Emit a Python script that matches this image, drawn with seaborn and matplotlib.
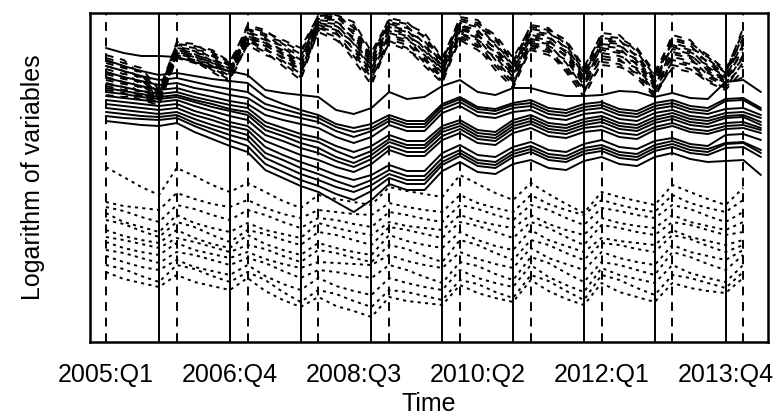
import pandas as pd
import seaborn as sns
import matplotlib
matplotlib.use('Agg')
import matplotlib.pyplot as plt

# quarters 2005:Q1 .. 2014:Q2, solid series run one quarter longer than the others
quarters = [f'{y}:Q{q}' for y in range(2005, 2015) for q in range(1, 5)][:38]
label_quarters = ['2005:Q1', '2006:Q4', '2008:Q3', '2010:Q2', '2012:Q1', '2013:Q4']

# log levels (arbitrary units)
solid_series = [
    [302,297,294,294,293,288,283,279,275,260,257,255,253,240,236,242,258,251,253,264,270,258,255,262,262,257,254,254,255,259,258,253,257,252,251,268,270,258],
    [290,284,279,275,277,274,271,269,267,253,246,240,235,226,222,226,235,229,229,246,253,243,241,247,250,242,240,246,248,241,239,247,250,244,242,251,252,242],
    [284,279,274,270,272,268,264,261,258,246,241,236,232,223,218,222,232,226,226,244,251,241,239,245,247,239,237,243,245,238,236,244,247,241,239,249,250,240],
    [278,273,269,265,267,262,259,255,252,241,236,232,228,219,213,219,229,223,223,241,248,238,236,242,244,236,234,240,242,235,233,241,244,238,236,241,242,235],
    [272,268,264,260,262,257,253,249,246,235,230,226,222,213,207,213,225,219,219,237,244,234,232,238,240,232,230,236,238,231,229,237,240,234,232,237,238,232],
    [266,263,259,256,258,253,249,245,242,228,222,216,212,204,198,204,215,209,209,224,230,220,218,230,235,227,225,231,234,227,225,233,237,231,229,234,235,228],
    [262,259,256,253,255,250,246,241,238,224,218,212,208,199,192,199,211,205,205,221,227,217,215,227,232,224,222,228,231,224,222,230,234,228,226,232,233,225],
    [258,256,253,251,253,248,243,239,235,220,214,207,202,193,187,195,208,202,202,218,224,214,212,224,229,221,219,225,228,221,219,227,231,225,223,227,228,222],
    [254,252,250,248,250,244,239,234,230,215,209,202,197,189,183,191,204,198,198,214,221,211,209,221,226,218,216,222,224,217,215,223,227,221,219,224,225,220],
    [250,248,246,244,246,239,234,228,224,209,202,195,190,183,178,186,200,194,194,210,217,207,205,217,222,214,212,218,220,213,211,220,224,218,216,221,222,217],
    [246,244,242,240,242,235,230,224,220,203,195,188,182,175,170,175,185,179,179,197,205,195,193,203,208,200,198,206,210,203,201,209,212,206,204,215,216,210],
    [242,240,238,236,238,231,225,220,215,197,190,182,176,169,163,170,180,174,174,192,200,190,188,199,204,196,194,202,205,198,196,205,209,203,201,207,208,200],
    [238,236,234,233,235,227,221,215,210,192,184,176,170,163,158,165,176,170,170,188,197,187,185,196,201,193,191,199,202,195,193,202,206,200,198,206,207,197],
    [234,232,231,230,232,224,217,210,204,186,178,170,164,156,150,159,172,166,166,185,194,184,182,193,198,190,188,196,199,192,190,199,203,197,195,202,203,193],
    [229,227,225,224,227,218,211,204,198,180,172,164,158,148,138,150,166,160,160,179,188,178,176,186,190,182,180,189,193,186,184,193,197,191,188,189,190,175],
]

dashed_series = [
    [295,290,275,256,308,306,296,285,325,320,306,296,335,336,322,292,332,328,312,288,333,330,310,287,325,322,305,279,317,315,298,274,315,310,291,277,322],
    [292,287,282,260,306,304,300,288,323,318,310,302,334,335,328,298,330,326,317,292,331,327,315,292,323,320,310,283,314,312,302,278,312,307,295,280,318],
    [289,284,270,254,305,302,292,282,321,316,302,290,333,334,316,288,328,324,306,284,329,325,305,283,321,318,301,275,312,310,293,270,310,305,287,274,315],
    [287,282,278,258,303,300,298,287,320,314,308,299,332,332,325,295,326,322,314,290,327,323,312,289,319,316,308,281,310,308,300,276,307,302,293,278,312],
    [284,279,265,252,302,299,289,280,318,312,298,286,331,330,310,284,324,320,301,281,325,320,300,279,317,314,297,271,308,306,289,267,305,300,283,272,308],
    [281,276,273,255,301,297,294,284,317,310,304,293,330,328,319,290,323,318,309,286,324,318,307,285,315,312,303,277,306,304,295,272,303,298,289,276,305],
    [278,273,261,250,300,296,287,277,315,308,295,282,328,326,306,280,321,316,297,277,322,316,295,275,313,310,293,267,304,302,285,263,301,296,279,269,302],
    [276,271,268,253,299,295,290,281,314,307,300,288,327,324,313,286,319,314,304,282,321,314,302,281,311,308,299,273,302,299,291,268,298,294,285,273,298],
    [273,268,257,248,298,294,284,274,313,306,291,278,326,322,300,275,317,312,292,273,319,312,290,270,309,306,287,262,300,297,280,259,296,292,275,266,295],
    [270,266,263,251,297,293,288,278,312,304,297,284,325,320,308,282,315,310,299,279,317,310,298,277,307,304,295,269,297,294,287,265,293,289,281,270,292],
    [267,263,253,246,296,292,280,270,310,302,287,273,323,318,294,269,313,308,287,269,316,308,284,265,305,302,281,257,294,291,275,255,290,286,270,262,288],
    [264,260,259,249,295,290,286,276,309,300,293,280,322,316,303,278,311,305,295,275,314,305,293,273,304,300,290,265,291,289,282,261,288,284,277,267,284],
    [260,257,250,245,293,289,278,268,307,298,284,270,320,313,290,265,309,302,284,267,312,303,280,262,302,298,278,253,288,286,272,253,285,281,268,260,280],
    [255,253,255,247,292,287,282,272,305,295,289,276,318,310,297,272,307,300,290,271,310,300,287,268,300,295,284,260,285,283,277,257,282,278,273,264,273],
]

dotted_series = [
    [183,173,163,155,182,174,165,158,167,158,149,142,155,151,148,145,163,159,156,153,175,166,157,150,167,156,146,137,158,153,149,145,165,158,151,145,162],
    [148,144,142,140,157,151,146,143,150,142,136,132,140,138,136,135,147,143,140,138,155,147,142,138,155,146,140,135,150,145,141,138,155,147,142,138,150],
    [143,139,133,128,145,141,135,130,140,135,128,122,132,130,126,123,138,135,131,128,145,141,135,130,145,140,132,125,142,139,135,132,145,141,134,128,138],
    [137,128,123,118,135,127,122,118,127,120,116,112,127,122,118,115,128,124,122,120,135,129,125,122,135,126,120,115,132,127,124,122,135,128,124,120,128],
    [130,126,119,113,128,123,115,108,120,116,110,105,118,115,110,105,123,120,116,112,128,124,118,112,128,122,113,105,125,122,118,115,128,125,120,115,118],
    [120,114,110,107,120,112,106,102,115,106,100,95,107,102,98,95,115,109,105,102,118,110,104,100,120,110,104,98,112,109,107,105,120,113,109,105,110],
    [113,110,106,102,112,108,103,98,105,101,94,88,100,97,92,88,105,101,94,88,110,105,97,90,110,105,97,90,107,105,101,98,115,111,104,98,105],
    [108,102,98,95,107,100,96,92,98,91,86,82,88,87,86,85,95,89,85,82,98,91,86,82,102,92,86,80,98,92,88,85,105,98,94,90,100],
    [100,97,92,87,98,95,90,85,92,87,79,72,80,78,75,72,85,80,73,67,88,84,76,70,93,87,77,68,88,85,80,75,98,93,86,80,95],
    [94,88,83,80,90,83,79,75,85,74,66,60,72,64,59,55,72,67,63,60,80,72,67,63,85,73,65,58,82,75,71,67,85,77,72,68,85],
    [85,81,74,68,85,81,74,68,78,70,58,48,60,56,49,43,60,58,54,50,70,66,58,52,75,69,59,50,75,70,62,55,75,72,67,62,78],
    [78,71,67,63,75,68,64,60,72,59,50,43,53,44,39,33,53,49,47,45,65,57,52,48,70,59,51,45,67,58,53,48,67,62,59,57,72],
]

rows = []
for group, series in [('solid', solid_series), ('dashed', dashed_series), ('dotted', dotted_series)]:
    for k, vals in enumerate(series):
        for i, v in enumerate(vals):
            rows.append((group, f'{group}{k}', i, v))
df = pd.DataFrame(rows, columns=['group', 'series', 't', 'value'])

sns.set_style('white')
plt.rcParams['font.family'] = ['Liberation Sans', 'DejaVu Sans']
plt.rcParams['text.color'] = 'black'
plt.rcParams['axes.edgecolor'] = 'black'
plt.rcParams['xtick.color'] = 'black'

fig = plt.figure(figsize=(7.76, 4.15), dpi=100)
ax = fig.add_axes([90 / 776, 73 / 415, 678 / 776, 329 / 415])

# year markers: Q1 dashed, Q4 solid
for i, q in enumerate(quarters):
    if q.endswith('Q1'):
        ax.axvline(i, color='black', lw=1.4, dashes=(4.5, 3.5))
    elif q.endswith('Q4'):
        ax.axvline(i, color='black', lw=1.4)

sns.lineplot(data=df, x='t', y='value', units='series', estimator=None,
             style='group', dashes={'solid': '', 'dashed': (4, 3.5), 'dotted': (1.6, 2.2)},
             color='black', linewidth=1.4, legend=False, ax=ax)

ax.set_xlim(-0.9, 37.4)
ax.set_ylim(8, 337)
ax.set_yticks([])
ax.set_xticks(range(37))
ax.set_xticklabels([q if q in label_quarters else '' for q in quarters[:37]])
ax.tick_params(axis='x', direction='in', length=5, width=1.2, labelsize=18, pad=15)
ax.set_xlabel('')
ax.set_ylabel('')
for s in ax.spines.values():
    s.set_visible(True)
    s.set_linewidth(1.8)

fig.text(429 / 776, 1 - 411 / 415, 'Time', ha='center', va='baseline', fontsize=18)
fig.text(33 / 776, 1 - 177.5 / 415, 'Logarithm of variables', rotation=90,
         ha='center', va='center', fontsize=18)

fig.savefig('out.png', dpi=100)
